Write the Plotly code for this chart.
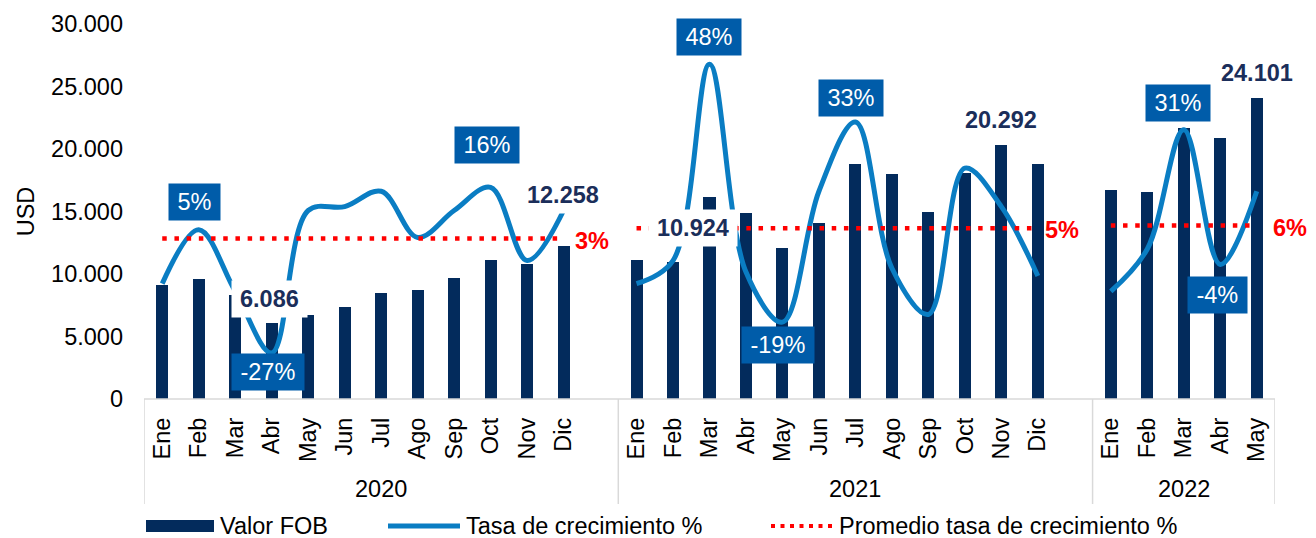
import plotly.graph_objects as go

# ---------------- data ----------------
months_2020 = ["Ene", "Feb", "Mar", "Abr", "May", "Jun", "Jul", "Ago", "Sep", "Oct", "Nov", "Dic"]
months_2021 = ["Ene", "Feb", "Mar", "Abr", "May", "Jun", "Jul", "Ago", "Sep", "Oct", "Nov", "Dic"]
months_2022 = ["Ene", "Feb", "Mar", "Abr", "May"]
years = ["2020", "2021", "2022"]

fob_2020 = [9100, 9600, 8300, 6086, 6700, 7400, 8500, 8700, 9700, 11100, 10800, 12258]
fob_2021 = [11100, 10924, 16200, 14900, 12100, 14100, 18800, 18000, 15000, 18100, 20292, 18800]
fob_2022 = [16700, 16600, 21700, 20900, 24101]

growth_2020 = [-9, 5, -11, -27, 10, 11, 15, 3, 10, 16, -3, 10]
growth_2021 = [-9, -3, 48, -6, -19, 15, 33, -5, -17, 21, 11, -7]
growth_2022 = [-11, 0, 31, -4, 15]

avg_growth = [2.7, 5.4, 6.1]          # per year
avg_labels = ["3%", "5%", "6%"]

# labelled points: (year index, month index)
growth_label_pts = [(0, 1), (0, 3), (0, 9), (1, 2), (1, 4), (1, 6), (2, 2), (2, 3)]
value_label_pts = [(0, 3), (0, 11), (1, 1), (1, 10), (2, 4)]

# ---------------- styling ----------------
NAVY = "#032b5c"
LINE_BLUE = "#0a7dc3"
BOX_BLUE = "#005ca9"
LABEL_NAVY = "#1b2e5a"
RED = "#ff0000"
GRAY = "#d9d9d9"
FONT = "Liberation Sans, Arial, sans-serif"
FS = 23.5

OFF = 8  # page body margin
W, H = 1316 - OFF, 538 - OFF
L, T = 144 - OFF, 24 - OFF
PW, PH = 1131, 375
R = W - L - PW
B = H - T - PH
BOTTOM_PAGE = 399


def px2x(px):  # page pixel -> paper x
    return (px - OFF - L) / PW


def py2y(py):  # page pixel -> paper y
    return (BOTTOM_PAGE - py) / PH


# slot layout: each year gets its months plus one empty slot (except the last)
month_lists = [months_2020, months_2021, months_2022]
fob_lists = [fob_2020, fob_2021, fob_2022]
growth_lists = [growth_2020, growth_2021, growth_2022]

year_start = []
s = 0
for i, ml in enumerate(month_lists):
    year_start.append(s)
    s += len(ml) + (1 if i < len(month_lists) - 1 else 0)
n_slots = s

bar_x, bar_y, tickvals, ticktext = [], [], [], []
line_x, line_y = [], []
for yi, ml in enumerate(month_lists):
    for mi, m in enumerate(ml):
        xpos = year_start[yi] + mi
        bar_x.append(xpos)
        bar_y.append(fob_lists[yi][mi])
        tickvals.append(xpos)
        ticktext.append(m)
        line_x.append(xpos)
        line_y.append(growth_lists[yi][mi])
    line_x.append(None)
    line_y.append(None)

fig = go.Figure()
fig.add_trace(go.Bar(x=bar_x, y=bar_y, width=0.33, marker=dict(color=NAVY, line=dict(width=0)),
                     name="Valor FOB", showlegend=False, yaxis="y"))
fig.add_trace(go.Scatter(x=line_x, y=line_y, mode="lines", yaxis="y2", connectgaps=False,
                         line=dict(color=LINE_BLUE, width=5, shape="spline", smoothing=1),
                         name="Tasa de crecimiento %", showlegend=False))
for yi, ml in enumerate(month_lists):
    xs = [year_start[yi] + mi for mi in range(len(ml))]
    fig.add_trace(go.Scatter(x=xs, y=[avg_growth[yi]] * len(xs), mode="lines", yaxis="y2",
                             line=dict(color=RED, width=4.5, dash="4.5px,7.7px"),
                             name="Promedio tasa de crecimiento %", showlegend=False))


def text_w(txt, size):
    w = 0
    for c in txt:
        if c.isdigit():
            w += 0.556
        elif c == "%":
            w += 0.889
        elif c == "-":
            w += 0.333
        else:
            w += 0.278
    return w * size


annotations = []
# growth labels (blue boxes)
g_shift = {(0, 1): (-4, 28), (0, 3): (-4, -19), (0, 9): (-4, 42), (1, 2): (-1, 27),
           (1, 4): (-4, -23), (1, 6): (-4, 24), (2, 2): (-6, 27), (2, 3): (-3, -31)}
for (yi, mi) in growth_label_pts:
    v = growth_lists[yi][mi]
    txt = f"{v}%"
    xs_, ys_ = g_shift[(yi, mi)]
    annotations.append(dict(x=year_start[yi] + mi, y=v, xref="x", yref="y2", text=txt,
                            showarrow=False, bgcolor=BOX_BLUE, borderpad=3,
                            width=text_w(txt, FS) + 11, height=30,
                            font=dict(family=FONT, size=FS, color="white"),
                            xshift=xs_, yshift=ys_))
# value labels (white boxes, bold navy)
v_shift = {(0, 3): (-2, 24), (0, 11): (-1, 51), (1, 1): (20, 34), (1, 10): (0, 25), (2, 4): (0, 25)}
for (yi, mi) in value_label_pts:
    v = fob_lists[yi][mi]
    txt = f"{v:,}".replace(",", ".")
    xs_, ys_ = v_shift[(yi, mi)]
    annotations.append(dict(x=year_start[yi] + mi, y=v, xref="x", yref="y", text=txt,
                            showarrow=False, bgcolor="white", borderpad=3,
                            width=text_w(txt, FS) + 10, height=30,
                            font=dict(family=FONT, size=FS, color=LABEL_NAVY, weight=700),
                            xshift=xs_, yshift=ys_))
# average labels (anchored at the last month of each year, shifted right in px)
avg_px_off = [9, 5, 14]
for yi, ml in enumerate(month_lists):
    annotations.append(dict(x=year_start[yi] + len(ml) - 1, y=avg_growth[yi],
                            xref="x", yref="y2", text=avg_labels[yi], showarrow=False,
                            xanchor="left", yanchor="middle", xshift=avg_px_off[yi], yshift=-2,
                            font=dict(family=FONT, size=FS, color=RED, weight=700)))
# year labels and separators
shapes = []
bounds = [-0.5]
for yi, ml in enumerate(month_lists):
    end = year_start[yi] + len(ml) - 1 + (1 if yi < len(month_lists) - 1 else 0) + 0.5
    bounds.append(end)
for yi, yr in enumerate(years):
    annotations.append(dict(x=(bounds[yi] + bounds[yi + 1]) / 2, y=py2y(489), xref="x", yref="paper",
                            text=yr, showarrow=False, xanchor="center", yanchor="middle",
                            font=dict(family=FONT, size=FS, color="black")))
for bx in bounds:
    shapes.append(dict(type="line", xref="x", yref="paper", x0=bx, x1=bx, y0=0, y1=py2y(504),
                       line=dict(color=GRAY, width=1.5)))
shapes.append(dict(type="line", xref="paper", yref="paper", x0=0, x1=1, y0=0, y1=0,
                   line=dict(color=GRAY, width=1.5)))

# custom legend
ly = py2y(526)
shapes.append(dict(type="rect", xref="paper", yref="paper", x0=px2x(146), x1=px2x(214),
                   y0=py2y(532), y1=py2y(520), fillcolor=NAVY, line=dict(width=0)))
shapes.append(dict(type="line", xref="paper", yref="paper", x0=px2x(388), x1=px2x(460),
                   y0=ly, y1=ly, line=dict(color=LINE_BLUE, width=5)))
shapes.append(dict(type="line", xref="paper", yref="paper", x0=px2x(771), x1=px2x(832),
                   y0=ly, y1=ly, line=dict(color=RED, width=4, dash="4px,5.5px")))
for px, txt in [(218, "Valor FOB"), (464, "Tasa de crecimiento %"), (837, "Promedio tasa de crecimiento %")]:
    annotations.append(dict(x=px2x(px), y=py2y(526), xref="paper", yref="paper", text=txt,
                            xanchor="left", yanchor="middle", showarrow=False,
                            font=dict(family=FONT, size=FS, color="black")))

fig.update_layout(
    width=W, height=H,
    margin=dict(l=L, r=R, t=T, b=B, pad=0, autoexpand=False),
    paper_bgcolor="white", plot_bgcolor="white",
    separators=",.",
    showlegend=False,
    font=dict(family=FONT, size=FS, color="black"),
    xaxis=dict(range=[-0.5, n_slots - 0.5], tickmode="array", tickvals=tickvals, ticktext=ticktext,
               tickangle=-90, showgrid=False, zeroline=False, showline=False, ticks="",
               automargin=False,
               ticklabelstandoff=13, tickfont=dict(family=FONT, size=FS, color="black")),
    yaxis=dict(range=[0, 30000], tickvals=[0, 5000, 10000, 15000, 20000, 25000, 30000],
               tickformat=",.0f", showgrid=False, zeroline=False, showline=False, ticks="",
               ticklabelstandoff=20, automargin=False,
               title=dict(text="USD", standoff=9, font=dict(family=FONT, size=FS, color="black")),
               tickfont=dict(family=FONT, size=FS, color="black")),
    yaxis2=dict(range=[-38.96, 58.44], overlaying="y", side="right", visible=False),
    annotations=annotations,
    shapes=shapes,
    bargap=0,
)

fig.write_html("out.html")
